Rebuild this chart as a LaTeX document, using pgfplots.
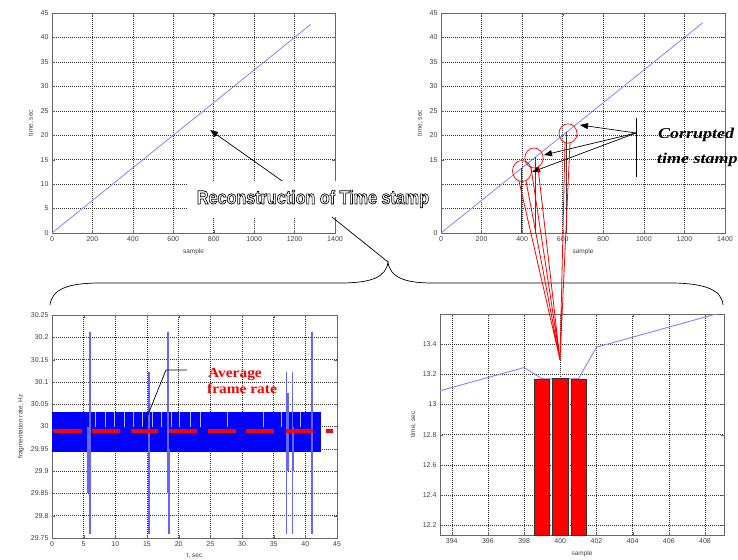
\documentclass[border=0pt]{standalone}
\usepackage{fontspec}
\setmainfont{Liberation Sans}
\newfontfamily\timesfont{Liberation Serif}
\usepackage{pgfplots}
\pgfplotsset{compat=1.18}
\usetikzlibrary{arrows.meta}

\definecolor{mline}{RGB}{130,130,255}
\definecolor{spike}{RGB}{100,100,255}
\definecolor{gapline}{RGB}{175,185,255}

\pgfplotsset{
  mstyle/.style={
    scale only axis,
    anchor=north west,
    axis line style={black!60},
    grid=major,
    major grid style={dash pattern=on 0.8pt off 1.2pt, black!80, line width=0.5pt},
    tick align=inside,
    major tick length=3pt,
    tick style={black!60},
    ticklabel style={font=\fontsize{7}{8}\selectfont, text=black!75},
    label style={font=\fontsize{6.5}{7.5}\selectfont, text=black!75},
    /pgf/number format/assume math mode=true,
    /pgf/number format/1000 sep={},
    unbounded coords=jump,
  }
}

% outlined title: white fill, black stroke (pdf text render mode 2)
\newcommand{\rts}{\scalebox{0.85}[1]{\fontsize{19}{19}\selectfont\bfseries
  \special{pdf:literal direct 2 Tr 0.7 w 0 0 0 RG}Reconstruction of Time stamp\special{pdf:literal direct 0 Tr}}}

\begin{document}
\begin{tikzpicture}
\path[use as bounding box] (0,0) rectangle (738pt,-559pt);

% top left: reconstructed time stamp
\begin{axis}[mstyle, at={(52pt,-13pt)}, width=283pt, height=220pt,
  xmin=0, xmax=1400, ymin=0, ymax=45,
  xtick={0,200,...,1400}, ytick={0,5,...,45},
  xlabel={sample}, ylabel={time, sec}]
\addplot[mline, line width=0.8pt] coordinates {(0,0) (1280,42.67)};
\end{axis}

% top right: time stamp with corrupted samples
\begin{axis}[mstyle, at={(441pt,-13pt)}, width=284pt, height=220pt,
  xmin=0, xmax=1400, ymin=0, ymax=45,
  xtick={0,200,...,1400}, ytick={0,5,...,45},
  xlabel={sample}, ylabel={time, sec}]
\addplot[mline, line width=0.8pt] coordinates {(0,0) (1290,43)};
\addplot[black!75, line width=0.8pt] coordinates {
  (398,0) (398,13.27) (398,nan)
  (467,0) (467,15.6) (467,nan)
  (620,0) (620,20.6)};
\end{axis}

% bottom left: fragmentation rate
\begin{axis}[mstyle, at={(52pt,-315pt)}, width=285pt, height=223pt,
  xmin=0, xmax=45, ymin=29.75, ymax=30.25,
  xtick={0,5,...,45},
  ytick={29.75,29.8,29.85,29.9,29.95,30,30.05,30.1,30.15,30.2,30.25},
  xlabel={t, sec}, ylabel={fragmentation rate, Hz}]
\addplot[fill=blue, draw=none] coordinates {
  (0,29.942) (42.4,29.942) (42.4,30.032) (0,30.032)} -- cycle;
\addplot[gapline, line width=0.9pt] coordinates {
  (6.9,29.998) (6.9,30.032) (6.9,nan)
  (8.4,29.998) (8.4,30.032) (8.4,nan)
  (9.8,29.998) (9.8,30.032) (9.8,nan)
  (11.4,29.998) (11.4,30.032) (11.4,nan)
  (12.8,29.998) (12.8,30.032) (12.8,nan)
  (14.3,29.998) (14.3,30.032) (14.3,nan)
  (15.9,29.998) (15.9,30.032) (15.9,nan)
  (17.3,29.998) (17.3,30.032) (17.3,nan)
  (18.9,29.998) (18.9,30.032) (18.9,nan)
  (20.2,29.998) (20.2,30.032) (20.2,nan)
  (21.9,29.998) (21.9,30.032) (21.9,nan)
  (23.4,29.998) (23.4,30.032) (23.4,nan)
  (27.7,29.998) (27.7,30.032) (27.7,nan)
  (33.4,29.998) (33.4,30.032) (33.4,nan)
  (36.3,29.998) (36.3,30.032) (36.3,nan)
  (39.2,29.998) (39.2,30.032)};
\addplot[spike, line width=1.5pt] coordinates {(5.7,29.85) (5.7,30.0)};
\addplot[spike, line width=1.5pt] coordinates {(6.0,29.76) (6.0,30.212)};
\addplot[spike, line width=1.5pt] coordinates {(15.3,29.76) (15.3,30.122)};
\addplot[spike, line width=1.5pt] coordinates {(18.3,29.85) (18.3,30.212)};
\addplot[spike, line width=1.5pt] coordinates {(18.45,29.76) (18.45,29.95)};
\addplot[spike, line width=1.5pt] coordinates {(37.05,29.76) (37.05,30.122)};
\addplot[spike, line width=1.5pt] coordinates {(37.25,29.9) (37.25,30.075)};
\addplot[spike, line width=1.5pt] coordinates {(37.95,29.76) (37.95,30.122)};
\addplot[spike, line width=1.5pt] coordinates {(38.15,29.9) (38.15,30.0)};
\addplot[spike, line width=1.5pt] coordinates {(41.05,29.76) (41.05,30.212)};
\addplot[red, line width=3.8pt] coordinates {
  (0.2,29.99) (4.7,29.99) (4.7,nan)
  (6.3,29.99) (10.7,29.99) (10.7,nan)
  (12.4,29.99) (16.8,29.99) (16.8,nan)
  (18.5,29.99) (22.9,29.99) (22.9,nan)
  (24.6,29.99) (29.0,29.99) (29.0,nan)
  (30.7,29.99) (35.1,29.99) (35.1,nan)
  (36.9,29.99) (41.2,29.99) (41.2,nan)
  (43.2,29.99) (44.3,29.99)};
\end{axis}

% bottom right: zoom around sample 400
\begin{axis}[mstyle, at={(440pt,-314pt)}, width=284pt, height=221pt,
  xmin=393.35, xmax=409.05, ymin=12.135, ymax=13.6,
  xtick={394,396,...,408},
  ytick={12.2,12.4,12.6,12.8,13,13.2,13.4},
  xlabel={sample}, ylabel={time, sec}]
\addplot[mline, line width=0.9pt] coordinates {
  (393,13.08) (398,13.245) (399,13.17) (400,13.17) (401,13.17)
  (402,13.38) (409,13.613)};
\addplot[ybar, bar width=0.83, fill=red, draw=black!80, line width=0.6pt] coordinates {
  (399,13.17) (400,13.175) (401,13.17)};
\end{axis}

\begin{scope}[x=1pt, y=-1pt]
% arrow in the top left chart
\draw[line width=0.7pt, -{Triangle[length=8pt,width=6pt]}] (285,183) -- (210,130);
% title box
\fill[white] (188,181) rectangle (438,217);
\node[text=white] at (313,199) {\rts};
% leader to brace and brace
\draw[line width=0.7pt] (332,217) -- (388,262);
\draw[line width=0.7pt] (50,305) .. controls (52,289) and (68,283) .. (100,283)
  -- (340,283) .. controls (372,283) and (386,277) .. (388,262)
  .. controls (390,277) and (404,283) .. (432,283)
  -- (670,283) .. controls (705,283) and (722,290) .. (723,305);
% corrupted time stamps
\draw[line width=0.7pt] (636,118) -- (636,177);
\draw[line width=0.7pt, -{Triangle[length=8pt,width=6pt]}] (636,133) -- (580,125);
\draw[line width=0.7pt, -{Triangle[length=8pt,width=6pt]}] (636,133) -- (544,155);
\draw[line width=0.7pt, -{Triangle[length=8pt,width=6pt]}] (636,133) -- (532,172);
\draw[red, line width=0.7pt] (568,133.5) ellipse [x radius=9, y radius=9.7];
\draw[red, line width=0.7pt] (534,158) ellipse [x radius=9.2, y radius=10];
\draw[red, line width=0.7pt] (522,171) ellipse [x radius=9.5, y radius=10.5];
\draw[red, line width=0.8pt] (565,143) -- (560,360) -- (570,142.5);
\draw[red, line width=0.8pt] (531,167.8) -- (560,360) -- (538,167.5);
\draw[red, line width=0.8pt] (519,181.3) -- (560,360) -- (526,181);
\node[anchor=base west, inner sep=0pt, font=\timesfont\bfseries\itshape\fontsize{15}{15}\selectfont]
  at (658,139) {\scalebox{1.2}[1]{Corrupted}};
\node[anchor=base west, inner sep=0pt, font=\timesfont\bfseries\itshape\fontsize{15}{15}\selectfont]
  at (657,163) {\scalebox{1.2}[1]{time stamp}};
% average frame rate
\draw[line width=0.7pt] (187,370) -- (166,370) -- (143,427);
\node[anchor=base west, inner sep=0pt, text=red, font=\timesfont\bfseries\fontsize{14}{14}\selectfont]
  at (208,377) {\scalebox{1.1}[1]{Average}};
\node[anchor=base west, inner sep=0pt, text=red, font=\timesfont\bfseries\fontsize{14}{14}\selectfont]
  at (207,393) {\scalebox{1.1}[1]{frame rate}};
\end{scope}
\end{tikzpicture}
\end{document}
